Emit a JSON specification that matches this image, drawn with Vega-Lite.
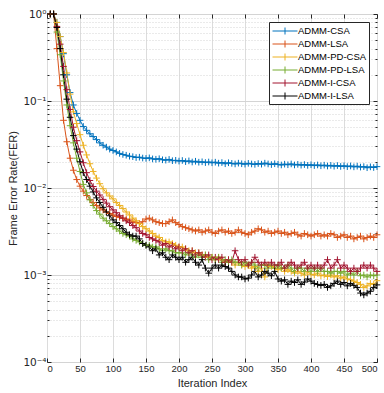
{
  "$schema": "https://vega.github.io/schema/vega-lite/v6.json",
  "width": 330,
  "height": 348,
  "autosize": "none",
  "padding": {"left": 47, "top": 14, "right": 7, "bottom": 31},
  "background": "white",
  "config": {"view": {"stroke": "#262626", "strokeWidth": 1}, "font": "Liberation Sans",
    "legend": {"orient": "none", "legendX": 222, "legendY": 8, "title": null, "strokeColor": "#262626", "fillColor": "white",
      "padding": 2, "rowPadding": 0, "labelFont": "Liberation Sans", "labelFontSize": 9.5, "labelColor": "#000000", "labelOffset": 6,
      "symbolType": "M-2,0H2M0,-0.56V0.56", "symbolSize": 156, "symbolOffset": 7, "symbolStrokeWidth": 1, "symbolFillColor": "transparent"}},
  "data": {"values": [
    {"x":5,"ADMM-CSA":1,"ADMM-LSA":1,"ADMM-PD-CSA":1,"ADMM-PD-LSA":1,"ADMM-I-CSA":1,"ADMM-I-LSA":1},
    {"x":10,"ADMM-CSA":1,"ADMM-LSA":1,"ADMM-PD-CSA":1,"ADMM-PD-LSA":1,"ADMM-I-CSA":1,"ADMM-I-LSA":1},
    {"x":15,"ADMM-CSA":0.8,"ADMM-LSA":0.4,"ADMM-PD-CSA":0.8,"ADMM-PD-LSA":0.62,"ADMM-I-CSA":0.72,"ADMM-I-LSA":0.7},
    {"x":20,"ADMM-CSA":0.55,"ADMM-LSA":0.15,"ADMM-PD-CSA":0.55,"ADMM-PD-LSA":0.34,"ADMM-I-CSA":0.45,"ADMM-I-LSA":0.4},
    {"x":25,"ADMM-CSA":0.35,"ADMM-LSA":0.06,"ADMM-PD-CSA":0.36,"ADMM-PD-LSA":0.17,"ADMM-I-CSA":0.25,"ADMM-I-LSA":0.2},
    {"x":30,"ADMM-CSA":0.2,"ADMM-LSA":0.034,"ADMM-PD-CSA":0.21,"ADMM-PD-LSA":0.09,"ADMM-I-CSA":0.135,"ADMM-I-LSA":0.105},
    {"x":35,"ADMM-CSA":0.125,"ADMM-LSA":0.022,"ADMM-PD-CSA":0.12,"ADMM-PD-LSA":0.052,"ADMM-I-CSA":0.08,"ADMM-I-LSA":0.065},
    {"x":40,"ADMM-CSA":0.09,"ADMM-LSA":0.016,"ADMM-PD-CSA":0.075,"ADMM-PD-LSA":0.033,"ADMM-I-CSA":0.05,"ADMM-I-LSA":0.04},
    {"x":45,"ADMM-CSA":0.072,"ADMM-LSA":0.0125,"ADMM-PD-CSA":0.055,"ADMM-PD-LSA":0.022,"ADMM-I-CSA":0.035,"ADMM-I-LSA":0.028},
    {"x":50,"ADMM-CSA":0.06,"ADMM-LSA":0.0105,"ADMM-PD-CSA":0.041,"ADMM-PD-LSA":0.0155,"ADMM-I-CSA":0.026,"ADMM-I-LSA":0.02},
    {"x":55,"ADMM-CSA":0.051,"ADMM-LSA":0.0092,"ADMM-PD-CSA":0.031,"ADMM-PD-LSA":0.011,"ADMM-I-CSA":0.0195,"ADMM-I-LSA":0.015},
    {"x":60,"ADMM-CSA":0.046,"ADMM-LSA":0.0082,"ADMM-PD-CSA":0.024,"ADMM-PD-LSA":0.0088,"ADMM-I-CSA":0.015,"ADMM-I-LSA":0.0125},
    {"x":65,"ADMM-CSA":0.042,"ADMM-LSA":0.0074,"ADMM-PD-CSA":0.019,"ADMM-PD-LSA":0.0073,"ADMM-I-CSA":0.0122,"ADMM-I-LSA":0.0105},
    {"x":70,"ADMM-CSA":0.039,"ADMM-LSA":0.0068,"ADMM-PD-CSA":0.0155,"ADMM-PD-LSA":0.0063,"ADMM-I-CSA":0.0104,"ADMM-I-LSA":0.009},
    {"x":75,"ADMM-CSA":0.036,"ADMM-LSA":0.0063,"ADMM-PD-CSA":0.013,"ADMM-PD-LSA":0.0055,"ADMM-I-CSA":0.0092,"ADMM-I-LSA":0.0077},
    {"x":80,"ADMM-CSA":0.033,"ADMM-LSA":0.0059,"ADMM-PD-CSA":0.0112,"ADMM-PD-LSA":0.005,"ADMM-I-CSA":0.0083,"ADMM-I-LSA":0.0068},
    {"x":85,"ADMM-CSA":0.031,"ADMM-LSA":0.0056,"ADMM-PD-CSA":0.0098,"ADMM-PD-LSA":0.0045,"ADMM-I-CSA":0.0074,"ADMM-I-LSA":0.006},
    {"x":90,"ADMM-CSA":0.0295,"ADMM-LSA":0.0053,"ADMM-PD-CSA":0.0088,"ADMM-PD-LSA":0.0042,"ADMM-I-CSA":0.0067,"ADMM-I-LSA":0.0053},
    {"x":95,"ADMM-CSA":0.028,"ADMM-LSA":0.0051,"ADMM-PD-CSA":0.0081,"ADMM-PD-LSA":0.0039,"ADMM-I-CSA":0.0061,"ADMM-I-LSA":0.0048},
    {"x":100,"ADMM-CSA":0.027,"ADMM-LSA":0.0049,"ADMM-PD-CSA":0.0075,"ADMM-PD-LSA":0.0036,"ADMM-I-CSA":0.0056,"ADMM-I-LSA":0.0043},
    {"x":105,"ADMM-CSA":0.026,"ADMM-LSA":0.0047,"ADMM-PD-CSA":0.0068,"ADMM-PD-LSA":0.0034,"ADMM-I-CSA":0.0052,"ADMM-I-LSA":0.004},
    {"x":110,"ADMM-CSA":0.025,"ADMM-LSA":0.0046,"ADMM-PD-CSA":0.0063,"ADMM-PD-LSA":0.0032,"ADMM-I-CSA":0.0048,"ADMM-I-LSA":0.0037},
    {"x":115,"ADMM-CSA":0.0243,"ADMM-LSA":0.0045,"ADMM-PD-CSA":0.0058,"ADMM-PD-LSA":0.003,"ADMM-I-CSA":0.0045,"ADMM-I-LSA":0.0034},
    {"x":120,"ADMM-CSA":0.0238,"ADMM-LSA":0.0044,"ADMM-PD-CSA":0.0053,"ADMM-PD-LSA":0.0029,"ADMM-I-CSA":0.0042,"ADMM-I-LSA":0.0031},
    {"x":125,"ADMM-CSA":0.0232,"ADMM-LSA":0.0043,"ADMM-PD-CSA":0.0049,"ADMM-PD-LSA":0.0028,"ADMM-I-CSA":0.004,"ADMM-I-LSA":0.0029},
    {"x":130,"ADMM-CSA":0.0229,"ADMM-LSA":0.0041,"ADMM-PD-CSA":0.0045,"ADMM-PD-LSA":0.0026,"ADMM-I-CSA":0.0037,"ADMM-I-LSA":0.0028},
    {"x":135,"ADMM-CSA":0.0224,"ADMM-LSA":0.004,"ADMM-PD-CSA":0.0042,"ADMM-PD-LSA":0.0025,"ADMM-I-CSA":0.0035,"ADMM-I-LSA":0.0028},
    {"x":140,"ADMM-CSA":0.0226,"ADMM-LSA":0.0039,"ADMM-PD-CSA":0.0039,"ADMM-PD-LSA":0.0024,"ADMM-I-CSA":0.0032,"ADMM-I-LSA":0.0026},
    {"x":145,"ADMM-CSA":0.0221,"ADMM-LSA":0.0041,"ADMM-PD-CSA":0.0036,"ADMM-PD-LSA":0.0023,"ADMM-I-CSA":0.003,"ADMM-I-LSA":0.0023},
    {"x":150,"ADMM-CSA":0.0219,"ADMM-LSA":0.0044,"ADMM-PD-CSA":0.0034,"ADMM-PD-LSA":0.0022,"ADMM-I-CSA":0.0029,"ADMM-I-LSA":0.0022},
    {"x":155,"ADMM-CSA":0.0222,"ADMM-LSA":0.0045,"ADMM-PD-CSA":0.0032,"ADMM-PD-LSA":0.0022,"ADMM-I-CSA":0.0027,"ADMM-I-LSA":0.0021},
    {"x":160,"ADMM-CSA":0.0216,"ADMM-LSA":0.0043,"ADMM-PD-CSA":0.003,"ADMM-PD-LSA":0.0021,"ADMM-I-CSA":0.0026,"ADMM-I-LSA":0.0019},
    {"x":165,"ADMM-CSA":0.0214,"ADMM-LSA":0.0041,"ADMM-PD-CSA":0.0028,"ADMM-PD-LSA":0.0021,"ADMM-I-CSA":0.0025,"ADMM-I-LSA":0.002},
    {"x":170,"ADMM-CSA":0.0217,"ADMM-LSA":0.004,"ADMM-PD-CSA":0.0027,"ADMM-PD-LSA":0.002,"ADMM-I-CSA":0.0024,"ADMM-I-LSA":0.0017},
    {"x":175,"ADMM-CSA":0.0211,"ADMM-LSA":0.0039,"ADMM-PD-CSA":0.0025,"ADMM-PD-LSA":0.0019,"ADMM-I-CSA":0.0022,"ADMM-I-LSA":0.0018},
    {"x":180,"ADMM-CSA":0.0209,"ADMM-LSA":0.0039,"ADMM-PD-CSA":0.0024,"ADMM-PD-LSA":0.002,"ADMM-I-CSA":0.0023,"ADMM-I-LSA":0.0016},
    {"x":185,"ADMM-CSA":0.0213,"ADMM-LSA":0.0041,"ADMM-PD-CSA":0.0024,"ADMM-PD-LSA":0.0019,"ADMM-I-CSA":0.0021,"ADMM-I-LSA":0.0015},
    {"x":190,"ADMM-CSA":0.0206,"ADMM-LSA":0.0043,"ADMM-PD-CSA":0.0023,"ADMM-PD-LSA":0.0019,"ADMM-I-CSA":0.0022,"ADMM-I-LSA":0.0017},
    {"x":195,"ADMM-CSA":0.0208,"ADMM-LSA":0.004,"ADMM-PD-CSA":0.0022,"ADMM-PD-LSA":0.0018,"ADMM-I-CSA":0.002,"ADMM-I-LSA":0.0016},
    {"x":200,"ADMM-CSA":0.0204,"ADMM-LSA":0.0038,"ADMM-PD-CSA":0.0021,"ADMM-PD-LSA":0.0018,"ADMM-I-CSA":0.0021,"ADMM-I-LSA":0.0015},
    {"x":205,"ADMM-CSA":0.0207,"ADMM-LSA":0.0036,"ADMM-PD-CSA":0.0021,"ADMM-PD-LSA":0.0018,"ADMM-I-CSA":0.0019,"ADMM-I-LSA":0.0016},
    {"x":210,"ADMM-CSA":0.0201,"ADMM-LSA":0.0035,"ADMM-PD-CSA":0.002,"ADMM-PD-LSA":0.0017,"ADMM-I-CSA":0.002,"ADMM-I-LSA":0.0014},
    {"x":215,"ADMM-CSA":0.0205,"ADMM-LSA":0.0034,"ADMM-PD-CSA":0.0019,"ADMM-PD-LSA":0.0018,"ADMM-I-CSA":0.0018,"ADMM-I-LSA":0.0015},
    {"x":220,"ADMM-CSA":0.0199,"ADMM-LSA":0.0033,"ADMM-PD-CSA":0.0019,"ADMM-PD-LSA":0.0017,"ADMM-I-CSA":0.0019,"ADMM-I-LSA":0.0016},
    {"x":225,"ADMM-CSA":0.0203,"ADMM-LSA":0.0032,"ADMM-PD-CSA":0.0018,"ADMM-PD-LSA":0.0016,"ADMM-I-CSA":0.0017,"ADMM-I-LSA":0.0014},
    {"x":230,"ADMM-CSA":0.0198,"ADMM-LSA":0.0033,"ADMM-PD-CSA":0.0018,"ADMM-PD-LSA":0.0017,"ADMM-I-CSA":0.0018,"ADMM-I-LSA":0.0013},
    {"x":235,"ADMM-CSA":0.02,"ADMM-LSA":0.0031,"ADMM-PD-CSA":0.0017,"ADMM-PD-LSA":0.0016,"ADMM-I-CSA":0.0017,"ADMM-I-LSA":0.0015},
    {"x":240,"ADMM-CSA":0.0196,"ADMM-LSA":0.0032,"ADMM-PD-CSA":0.0017,"ADMM-PD-LSA":0.0017,"ADMM-I-CSA":0.0016,"ADMM-I-LSA":0.0012},
    {"x":245,"ADMM-CSA":0.0199,"ADMM-LSA":0.0033,"ADMM-PD-CSA":0.0016,"ADMM-PD-LSA":0.0015,"ADMM-I-CSA":0.0017,"ADMM-I-LSA":0.00105},
    {"x":250,"ADMM-CSA":0.0195,"ADMM-LSA":0.0031,"ADMM-PD-CSA":0.0016,"ADMM-PD-LSA":0.0016,"ADMM-I-CSA":0.0015,"ADMM-I-LSA":0.0012},
    {"x":255,"ADMM-CSA":0.0198,"ADMM-LSA":0.003,"ADMM-PD-CSA":0.0015,"ADMM-PD-LSA":0.0015,"ADMM-I-CSA":0.0016,"ADMM-I-LSA":0.0013},
    {"x":260,"ADMM-CSA":0.0193,"ADMM-LSA":0.0032,"ADMM-PD-CSA":0.0016,"ADMM-PD-LSA":0.0016,"ADMM-I-CSA":0.0015,"ADMM-I-LSA":0.0012},
    {"x":265,"ADMM-CSA":0.0196,"ADMM-LSA":0.0033,"ADMM-PD-CSA":0.0015,"ADMM-PD-LSA":0.0014,"ADMM-I-CSA":0.0016,"ADMM-I-LSA":0.0013},
    {"x":270,"ADMM-CSA":0.019,"ADMM-LSA":0.0031,"ADMM-PD-CSA":0.0014,"ADMM-PD-LSA":0.0015,"ADMM-I-CSA":0.0014,"ADMM-I-LSA":0.00125},
    {"x":275,"ADMM-CSA":0.0195,"ADMM-LSA":0.0032,"ADMM-PD-CSA":0.0015,"ADMM-PD-LSA":0.0014,"ADMM-I-CSA":0.0015,"ADMM-I-LSA":0.0012},
    {"x":280,"ADMM-CSA":0.0192,"ADMM-LSA":0.003,"ADMM-PD-CSA":0.0014,"ADMM-PD-LSA":0.0015,"ADMM-I-CSA":0.0014,"ADMM-I-LSA":0.0011},
    {"x":285,"ADMM-CSA":0.0189,"ADMM-LSA":0.0031,"ADMM-PD-CSA":0.0013,"ADMM-PD-LSA":0.0014,"ADMM-I-CSA":0.0019,"ADMM-I-LSA":0.001},
    {"x":290,"ADMM-CSA":0.0193,"ADMM-LSA":0.0033,"ADMM-PD-CSA":0.0014,"ADMM-PD-LSA":0.0014,"ADMM-I-CSA":0.0015,"ADMM-I-LSA":0.00095},
    {"x":295,"ADMM-CSA":0.019,"ADMM-LSA":0.0031,"ADMM-PD-CSA":0.0013,"ADMM-PD-LSA":0.0013,"ADMM-I-CSA":0.0014,"ADMM-I-LSA":0.00095},
    {"x":300,"ADMM-CSA":0.0188,"ADMM-LSA":0.003,"ADMM-PD-CSA":0.00125,"ADMM-PD-LSA":0.0014,"ADMM-I-CSA":0.0015,"ADMM-I-LSA":0.0009},
    {"x":305,"ADMM-CSA":0.0192,"ADMM-LSA":0.0029,"ADMM-PD-CSA":0.0013,"ADMM-PD-LSA":0.0013,"ADMM-I-CSA":0.0013,"ADMM-I-LSA":0.00092},
    {"x":310,"ADMM-CSA":0.0189,"ADMM-LSA":0.0031,"ADMM-PD-CSA":0.0012,"ADMM-PD-LSA":0.0014,"ADMM-I-CSA":0.0014,"ADMM-I-LSA":0.001},
    {"x":315,"ADMM-CSA":0.0187,"ADMM-LSA":0.0032,"ADMM-PD-CSA":0.00125,"ADMM-PD-LSA":0.0013,"ADMM-I-CSA":0.0016,"ADMM-I-LSA":0.0011},
    {"x":320,"ADMM-CSA":0.0191,"ADMM-LSA":0.0034,"ADMM-PD-CSA":0.0011,"ADMM-PD-LSA":0.0012,"ADMM-I-CSA":0.0014,"ADMM-I-LSA":0.00095},
    {"x":325,"ADMM-CSA":0.0188,"ADMM-LSA":0.0033,"ADMM-PD-CSA":0.0012,"ADMM-PD-LSA":0.0013,"ADMM-I-CSA":0.0013,"ADMM-I-LSA":0.001},
    {"x":330,"ADMM-CSA":0.0193,"ADMM-LSA":0.0031,"ADMM-PD-CSA":0.00095,"ADMM-PD-LSA":0.0013,"ADMM-I-CSA":0.0014,"ADMM-I-LSA":0.0011},
    {"x":335,"ADMM-CSA":0.0189,"ADMM-LSA":0.0032,"ADMM-PD-CSA":0.0013,"ADMM-PD-LSA":0.0012,"ADMM-I-CSA":0.0013,"ADMM-I-LSA":0.00105},
    {"x":340,"ADMM-CSA":0.0186,"ADMM-LSA":0.003,"ADMM-PD-CSA":0.00125,"ADMM-PD-LSA":0.0013,"ADMM-I-CSA":0.0014,"ADMM-I-LSA":0.00098},
    {"x":345,"ADMM-CSA":0.019,"ADMM-LSA":0.0031,"ADMM-PD-CSA":0.0012,"ADMM-PD-LSA":0.0012,"ADMM-I-CSA":0.0013,"ADMM-I-LSA":0.0011},
    {"x":350,"ADMM-CSA":0.0187,"ADMM-LSA":0.0032,"ADMM-PD-CSA":0.00115,"ADMM-PD-LSA":0.0013,"ADMM-I-CSA":0.0013,"ADMM-I-LSA":0.0009},
    {"x":355,"ADMM-CSA":0.0184,"ADMM-LSA":0.003,"ADMM-PD-CSA":0.0012,"ADMM-PD-LSA":0.0012,"ADMM-I-CSA":0.0014,"ADMM-I-LSA":0.00085},
    {"x":360,"ADMM-CSA":0.0188,"ADMM-LSA":0.0031,"ADMM-PD-CSA":0.0011,"ADMM-PD-LSA":0.0012,"ADMM-I-CSA":0.0012,"ADMM-I-LSA":0.00088},
    {"x":365,"ADMM-CSA":0.0185,"ADMM-LSA":0.0029,"ADMM-PD-CSA":0.00115,"ADMM-PD-LSA":0.0013,"ADMM-I-CSA":0.0013,"ADMM-I-LSA":0.00078},
    {"x":370,"ADMM-CSA":0.0189,"ADMM-LSA":0.003,"ADMM-PD-CSA":0.0011,"ADMM-PD-LSA":0.0012,"ADMM-I-CSA":0.0014,"ADMM-I-LSA":0.00085},
    {"x":375,"ADMM-CSA":0.0184,"ADMM-LSA":0.0031,"ADMM-PD-CSA":0.00105,"ADMM-PD-LSA":0.0011,"ADMM-I-CSA":0.0013,"ADMM-I-LSA":0.00082},
    {"x":380,"ADMM-CSA":0.0187,"ADMM-LSA":0.0029,"ADMM-PD-CSA":0.0011,"ADMM-PD-LSA":0.0012,"ADMM-I-CSA":0.0012,"ADMM-I-LSA":0.00088},
    {"x":385,"ADMM-CSA":0.0183,"ADMM-LSA":0.0028,"ADMM-PD-CSA":0.00105,"ADMM-PD-LSA":0.0012,"ADMM-I-CSA":0.0013,"ADMM-I-LSA":0.00078},
    {"x":390,"ADMM-CSA":0.0186,"ADMM-LSA":0.003,"ADMM-PD-CSA":0.001,"ADMM-PD-LSA":0.0011,"ADMM-I-CSA":0.0014,"ADMM-I-LSA":0.00083},
    {"x":395,"ADMM-CSA":0.0182,"ADMM-LSA":0.0029,"ADMM-PD-CSA":0.00108,"ADMM-PD-LSA":0.0012,"ADMM-I-CSA":0.0012,"ADMM-I-LSA":0.0009},
    {"x":400,"ADMM-CSA":0.0185,"ADMM-LSA":0.0028,"ADMM-PD-CSA":0.00102,"ADMM-PD-LSA":0.0011,"ADMM-I-CSA":0.0013,"ADMM-I-LSA":0.00085},
    {"x":405,"ADMM-CSA":0.0181,"ADMM-LSA":0.0029,"ADMM-PD-CSA":0.001,"ADMM-PD-LSA":0.0012,"ADMM-I-CSA":0.0012,"ADMM-I-LSA":0.0008},
    {"x":410,"ADMM-CSA":0.0184,"ADMM-LSA":0.003,"ADMM-PD-CSA":0.00105,"ADMM-PD-LSA":0.0011,"ADMM-I-CSA":0.0013,"ADMM-I-LSA":0.00078},
    {"x":415,"ADMM-CSA":0.018,"ADMM-LSA":0.0028,"ADMM-PD-CSA":0.00098,"ADMM-PD-LSA":0.0012,"ADMM-I-CSA":0.0012,"ADMM-I-LSA":0.00076},
    {"x":420,"ADMM-CSA":0.0183,"ADMM-LSA":0.0029,"ADMM-PD-CSA":0.001,"ADMM-PD-LSA":0.0011,"ADMM-I-CSA":0.0013,"ADMM-I-LSA":0.00078},
    {"x":425,"ADMM-CSA":0.0179,"ADMM-LSA":0.0028,"ADMM-PD-CSA":0.00096,"ADMM-PD-LSA":0.0011,"ADMM-I-CSA":0.0015,"ADMM-I-LSA":0.00072},
    {"x":430,"ADMM-CSA":0.0182,"ADMM-LSA":0.003,"ADMM-PD-CSA":0.001,"ADMM-PD-LSA":0.00105,"ADMM-I-CSA":0.0012,"ADMM-I-LSA":0.00075},
    {"x":435,"ADMM-CSA":0.0178,"ADMM-LSA":0.0029,"ADMM-PD-CSA":0.00095,"ADMM-PD-LSA":0.0011,"ADMM-I-CSA":0.0013,"ADMM-I-LSA":0.0008},
    {"x":440,"ADMM-CSA":0.0181,"ADMM-LSA":0.0027,"ADMM-PD-CSA":0.00098,"ADMM-PD-LSA":0.0011,"ADMM-I-CSA":0.0015,"ADMM-I-LSA":0.00085},
    {"x":445,"ADMM-CSA":0.0177,"ADMM-LSA":0.0028,"ADMM-PD-CSA":0.00092,"ADMM-PD-LSA":0.00105,"ADMM-I-CSA":0.0012,"ADMM-I-LSA":0.00078},
    {"x":450,"ADMM-CSA":0.018,"ADMM-LSA":0.0029,"ADMM-PD-CSA":0.00095,"ADMM-PD-LSA":0.0011,"ADMM-I-CSA":0.0013,"ADMM-I-LSA":0.00082},
    {"x":455,"ADMM-CSA":0.0176,"ADMM-LSA":0.0027,"ADMM-PD-CSA":0.0009,"ADMM-PD-LSA":0.001,"ADMM-I-CSA":0.0012,"ADMM-I-LSA":0.00075},
    {"x":460,"ADMM-CSA":0.0179,"ADMM-LSA":0.0028,"ADMM-PD-CSA":0.00088,"ADMM-PD-LSA":0.00105,"ADMM-I-CSA":0.0011,"ADMM-I-LSA":0.0008},
    {"x":465,"ADMM-CSA":0.0175,"ADMM-LSA":0.0026,"ADMM-PD-CSA":0.00085,"ADMM-PD-LSA":0.001,"ADMM-I-CSA":0.0012,"ADMM-I-LSA":0.00076},
    {"x":470,"ADMM-CSA":0.0178,"ADMM-LSA":0.0027,"ADMM-PD-CSA":0.00082,"ADMM-PD-LSA":0.0011,"ADMM-I-CSA":0.0011,"ADMM-I-LSA":0.00072},
    {"x":475,"ADMM-CSA":0.0174,"ADMM-LSA":0.0028,"ADMM-PD-CSA":0.00078,"ADMM-PD-LSA":0.00098,"ADMM-I-CSA":0.0012,"ADMM-I-LSA":0.00062},
    {"x":480,"ADMM-CSA":0.0176,"ADMM-LSA":0.0026,"ADMM-PD-CSA":0.00072,"ADMM-PD-LSA":0.001,"ADMM-I-CSA":0.0013,"ADMM-I-LSA":0.00059},
    {"x":485,"ADMM-CSA":0.0171,"ADMM-LSA":0.0027,"ADMM-PD-CSA":0.00075,"ADMM-PD-LSA":0.00095,"ADMM-I-CSA":0.0012,"ADMM-I-LSA":0.00062},
    {"x":490,"ADMM-CSA":0.0175,"ADMM-LSA":0.0028,"ADMM-PD-CSA":0.0008,"ADMM-PD-LSA":0.001,"ADMM-I-CSA":0.0013,"ADMM-I-LSA":0.00065},
    {"x":495,"ADMM-CSA":0.0172,"ADMM-LSA":0.0027,"ADMM-PD-CSA":0.00078,"ADMM-PD-LSA":0.00098,"ADMM-I-CSA":0.0012,"ADMM-I-LSA":0.00072},
    {"x":500,"ADMM-CSA":0.0176,"ADMM-LSA":0.0029,"ADMM-PD-CSA":0.00086,"ADMM-PD-LSA":0.001,"ADMM-I-CSA":0.0011,"ADMM-I-LSA":0.00077}
  ]},
  "transform": [
    {"fold": ["ADMM-CSA","ADMM-LSA","ADMM-PD-CSA","ADMM-PD-LSA","ADMM-I-CSA","ADMM-I-LSA"], "as": ["series","fer"]}
  ],
  "layer": [
    {
      "mark": {"type": "line", "strokeWidth": 1, "clip": false},
      "encoding": {
        "x": {"field": "x", "type": "quantitative", "scale": {"domain": [0, 500], "nice": false},
          "axis": {"orient": "bottom", "values": [0,50,100,150,200,250,300,350,400,450,500], "grid": true, "gridColor": "#dcdcdc", "gridWidth": 1, "domain": false,
            "tickSize": -4, "tickColor": "#262626", "labelFontSize": 9.5, "labelColor": "#262626", "labelPadding": 5, "labelFont": "Liberation Sans",
            "title": "Iteration Index", "titleFontSize": 11, "titleFontWeight": "normal", "titleColor": "#262626", "titlePadding": 5, "titleFont": "Liberation Sans"}},
        "y": {"field": "fer", "type": "quantitative", "scale": {"type": "log", "domain": [0.0001, 1], "nice": false},
          "axis": {"orient": "left",
            "values": [0.0001,0.0002,0.0003,0.0004,0.0005,0.0006,0.0007,0.0008,0.0009,0.001,0.002,0.003,0.004,0.005,0.006,0.007,0.008,0.009,0.01,0.02,0.03,0.04,0.05,0.06,0.07,0.08,0.09,0.1,0.2,0.3,0.4,0.5,0.6,0.7,0.8,0.9,1],
            "grid": true, "gridColor": "#d4d4d4", "gridWidth": 1,
            "gridDash": {"condition": {"test": "indexof([1,0.1,0.01,0.001,0.0001], datum.value) >= 0", "value": []}, "value": [1, 2]},
            "domain": false, "tickColor": "#262626",
            "tickSize": {"condition": {"test": "indexof([1,0.1,0.01,0.001,0.0001], datum.value) >= 0", "value": -4}, "value": -2},
            "labelExpr": "datum.value == 1 ? '10⁰' : datum.value == 0.1 ? '10⁻¹' : datum.value == 0.01 ? '10⁻²' : datum.value == 0.001 ? '10⁻³' : datum.value == 0.0001 ? '10⁻⁴' : ''",
            "labelFontSize": 10.5, "labelColor": "#262626", "labelPadding": 5, "labelFont": "DejaVu Sans",
            "title": "Frame Error Rate(FER)", "titleFontSize": 11, "titleFontWeight": "normal", "titleColor": "#262626", "titlePadding": 4, "titleFont": "Liberation Sans"}},
        "color": {"field": "series", "type": "nominal",
          "scale": {"domain": ["ADMM-CSA","ADMM-LSA","ADMM-PD-CSA","ADMM-PD-LSA","ADMM-I-CSA","ADMM-I-LSA"], "range": ["#0072BD","#D95319","#EDB120","#77AC30","#A2142F","#000000"]}}
      }
    },
    {
      "mark": {"type": "point", "shape": "M-1,0H1M0,-1V1", "filled": false, "size": 44, "strokeWidth": 1, "opacity": 1, "clip": false},
      "encoding": {
        "x": {"field": "x", "type": "quantitative", "scale": {"domain": [0, 500], "nice": false},
          "axis": {"orient": "top", "values": [0,50,100,150,200,250,300,350,400,450,500], "grid": false, "domain": false, "labels": false, "title": null,
            "tickSize": -4, "tickColor": "#262626"}},
        "y": {"field": "fer", "type": "quantitative", "scale": {"type": "log", "domain": [0.0001, 1], "nice": false},
          "axis": {"orient": "right",
            "values": [0.0001,0.0002,0.0003,0.0004,0.0005,0.0006,0.0007,0.0008,0.0009,0.001,0.002,0.003,0.004,0.005,0.006,0.007,0.008,0.009,0.01,0.02,0.03,0.04,0.05,0.06,0.07,0.08,0.09,0.1,0.2,0.3,0.4,0.5,0.6,0.7,0.8,0.9,1],
            "grid": false, "domain": false, "labels": false, "title": null, "tickColor": "#262626",
            "tickSize": {"condition": {"test": "indexof([1,0.1,0.01,0.001,0.0001], datum.value) >= 0", "value": -4}, "value": -2}}},
        "color": {"field": "series", "type": "nominal",
          "scale": {"domain": ["ADMM-CSA","ADMM-LSA","ADMM-PD-CSA","ADMM-PD-LSA","ADMM-I-CSA","ADMM-I-LSA"], "range": ["#0072BD","#D95319","#EDB120","#77AC30","#A2142F","#000000"]}}
      }
    }
  ],
  "resolve": {"axis": {"x": "independent", "y": "independent"}}
}
